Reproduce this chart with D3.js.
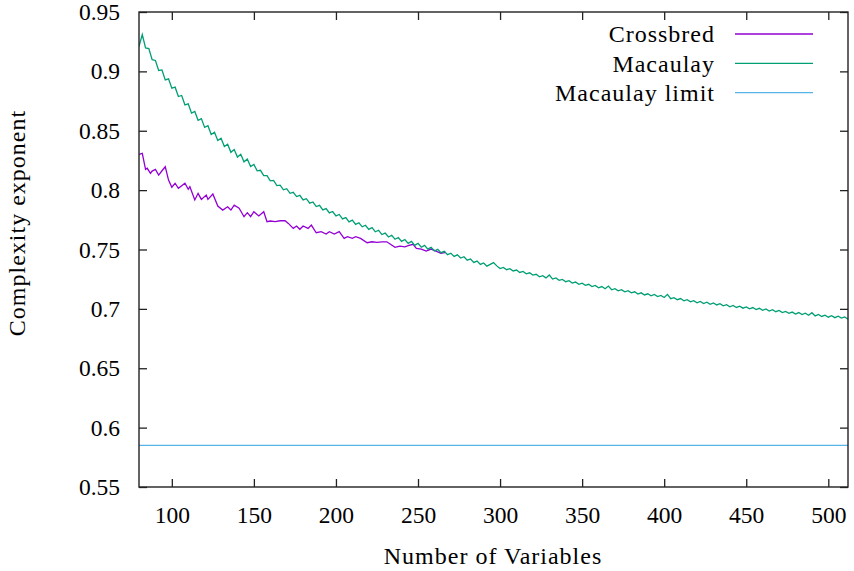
<!DOCTYPE html>
<html>
<head>
<meta charset="utf-8">
<script src="https://cdn.jsdelivr.net/npm/d3@7"></script>
<style>
  body { margin: 0; background: white; }
  text { font-family: "Liberation Serif", "DejaVu Serif", serif; fill: #000; }
  .label { font-size: 24px; letter-spacing: 1px; }
</style>
</head>
<body>
<div id="graphicContainer"></div>
<script>

// number of variables used for the Macaulay run (every other n)
var macaulayN = [80,82,84,86,88,90,92,94,96,98,100,102,104,106,108,110,112,114,116,118,120,122,124,126,128,130,132,134,136,138,140,142,144,146,148,150,
  152,154,156,158,160,162,164,166,168,170,172,174,176,178,180,182,184,186,188,190,192,194,196,198,200,202,204,206,208,210,212,214,216,218,220,222,224,226,228,230,232,234,236,238,240,242,244,246,248,250,252,254,256,258,260,
  262,264,266,268,270,272,274,276,278,280,282,284,286,288,290,292,294,296,298,300,302,304,306,308,310,312,314,316,318,320,322,324,326,328,330,332,334,336,338,340,342,344,346,348,350,352,354,356,358,360,
  362,364,366,368,370,372,374,376,378,380,382,384,386,388,390,392,394,396,398,400,402,404,406,408,410,412,414,416,418,420,422,424,426,428,430,432,434,436,438,440,442,444,446,448,450,452,454,456,458,460,
  462,464,466,468,470,472,474,476,478,480,482,484,486,488,490,492,494,496,498,500,502,504,506,508,510,512]

var macaulay = [0.921,0.931,0.9198,0.9192,0.9098,0.9092,0.9008,0.9012,0.8928,0.8937,0.8858,0.8867,0.8788,0.8797,0.8718,0.8727,0.8648,0.8662,0.8588,0.8602,0.8528,0.8542,0.8468,0.8487,0.8418,0.8437,0.8368,0.8387,0.8318,0.8342,0.8278,0.8302,0.8238,0.8262,0.8198,0.8217,
  0.8163,0.8167,0.8123,0.8122,0.8078,0.8082,0.8038,0.8042,0.8003,0.8012,0.7973,0.7982,0.7946,0.7956,0.7918,0.7928,0.789,0.79,0.7862,0.7872,0.7834,0.7845,0.7808,0.782,0.7783,0.7795,0.7758,0.7769,0.7733,0.7747,0.7712,0.7725,0.7691,0.7704,0.767,0.7684,0.7649,0.7662,0.7626,0.7638,0.7605,0.762,0.7586,0.7601,0.7568,0.7584,0.7552,0.7568,0.7535,0.7551,0.7519,0.7535,0.7503,0.7519,0.7487,
  0.7501,0.7473,0.7485,0.7457,0.7469,0.7442,0.7455,0.7428,0.7439,0.741,0.742,0.7391,0.7402,0.7374,0.7387,0.736,0.7375,0.739,0.7362,0.734,0.7349,0.733,0.7339,0.7319,0.7327,0.7307,0.7315,0.7295,0.7304,0.7285,0.7291,0.727,0.7279,0.7261,0.7285,0.7251,0.726,0.724,0.7248,0.7229,0.7237,0.7217,0.7226,0.7207,0.7217,0.7198,0.7207,0.7188,0.7197,0.7178,
  0.7188,0.717,0.7192,0.7161,0.717,0.7152,0.7162,0.7144,0.7153,0.7135,0.7144,0.7125,0.7135,0.7117,0.7127,0.711,0.7121,0.7103,0.7113,0.7096,0.7122,0.7086,0.7095,0.7077,0.7087,0.7068,0.7077,0.7059,0.7069,0.7051,0.7062,0.7045,0.7056,0.7039,0.705,0.7033,0.7044,0.7026,0.7036,0.7018,0.7029,0.7012,0.7023,0.7006,0.7017,0.7,0.7011,0.6994,0.7005,0.6988,
  0.6999,0.6982,0.6993,0.6976,0.6987,0.6969,0.6979,0.6962,0.6973,0.6957,0.6969,0.6952,0.6963,0.6946,0.6968,0.6941,0.6953,0.6936,0.6947,0.693,0.6942,0.6926,0.6938,0.6922,0.6932,0.6912]

var crossbredN = [80,82,84,85,87,88,90,92,94,96,98,100,102,104,108,110,111,114,116,118,121,122,125,128,131,134,136,138,141,144,146,148,150,153,156,158,160,163,166,169,171,174,176,178,180,183,185,188,191,194,196,199,202,205,207,210,212,215,219,222,225,228,231,233,236,239,242,244,247,249,252,255,258,261,264,267]

var crossbred = [0.830,0.831,0.8175,0.8184,0.8141,0.816,0.8175,0.8127,0.8163,0.8197,0.8085,0.8024,0.8058,0.8015,0.8058,0.8007,0.8029,0.7917,0.7973,0.7922,0.7959,0.7922,0.7967,0.7866,0.7832,0.786,0.7832,0.7874,0.7847,0.7776,0.781,0.7776,0.7818,0.7782,0.7818,0.7734,0.774,0.7734,0.7742,0.7742,0.772,0.7678,0.7698,0.767,0.7698,0.7678,0.7706,0.7641,0.765,0.763,0.765,0.763,0.765,0.7594,0.7608,0.7594,0.7608,0.7594,0.7557,0.7565,0.756,0.7565,0.7565,0.7546,0.7518,0.7529,0.7523,0.7532,0.7544,0.751,0.7504,0.7487,0.7504,0.7487,0.7468,0.7475]

var macaulayLimit = 0.585

var xTicks = [100,150,200,250,300,350,400,450,500]
var yTicks = [0.55,0.6,0.65,0.7,0.75,0.8,0.85,0.9,0.95]
var yTickLabels = ["0.55","0.6","0.65","0.7","0.75","0.8","0.85","0.9","0.95"]

var seriesNames = ["Crossbred", "Macaulay", "Macaulay limit"]
var seriesColours = ["#9400d3", "#009e73", "#56b4e9"]


var width = 854, height = 571
var margin = {top: 12, right: 6, bottom: 84, left: 139}
var innerW = width - margin.left - margin.right
var innerH = height - margin.top - margin.bottom

var svg = d3.select("#graphicContainer").append("svg")
    .attr("width", width)
    .attr("height", height)

var x = d3.scaleLinear().domain([80, 512]).range([0, innerW])
var y = d3.scaleLinear().domain([0.55, 0.95]).range([innerH, 0])

var g = svg.append("g").attr("transform", "translate(" + margin.left + "," + margin.top + ")")

g.append("clipPath").attr("id", "plotClip")
    .append("rect").attr("width", innerW).attr("height", innerH)

var tickLen = 8

// ticks on all four sides pointing inwards, gnuplot style
g.append("g").attr("transform", "translate(0," + innerH + ")")
    .call(d3.axisBottom(x).tickValues(xTicks).tickSize(-tickLen).tickPadding(19))
g.append("g")
    .call(d3.axisTop(x).tickValues(xTicks).tickSize(-tickLen).tickFormat(""))
g.append("g")
    .call(d3.axisLeft(y).tickValues(yTicks).tickSize(-tickLen).tickPadding(19)
        .tickFormat(function(d, i) { return yTickLabels[i] }))
g.append("g").attr("transform", "translate(" + innerW + ",0)")
    .call(d3.axisRight(y).tickValues(yTicks).tickSize(-tickLen).tickFormat(""))

g.selectAll(".domain").remove()
g.selectAll(".tick line").attr("stroke", "#222").attr("stroke-width", 1.3)
g.selectAll(".tick text").style("font-size", "23.5px").attr("fill", "#000")

var line = d3.line()
    .x(function(d) { return x(d[0]) })
    .y(function(d) { return y(d[1]) })

var lines = g.append("g").attr("clip-path", "url(#plotClip)")

lines.append("path")
    .datum(crossbredN.map(function(n, i) { return [n, crossbred[i]] }))
    .attr("fill", "none")
    .attr("stroke", seriesColours[0])
    .attr("stroke-width", 1.3)
    .attr("d", line)

lines.append("path")
    .datum(macaulayN.map(function(n, i) { return [n, macaulay[i]] }))
    .attr("fill", "none")
    .attr("stroke", seriesColours[1])
    .attr("stroke-width", 1.3)
    .attr("d", line)

lines.append("line")
    .attr("x1", x(80)).attr("x2", x(512))
    .attr("y1", y(macaulayLimit)).attr("y2", y(macaulayLimit))
    .attr("stroke", seriesColours[2])
    .attr("stroke-width", 1.3)

// frame
g.append("rect")
    .attr("width", innerW).attr("height", innerH)
    .attr("fill", "none").attr("stroke", "#222").attr("stroke-width", 1.4)

// legend
var legend = g.append("g").attr("transform", "translate(" + (715 - margin.left) + "," + (34 - margin.top) + ")")
seriesNames.forEach(function(name, i) {
    legend.append("text")
        .attr("class", "label")
        .attr("x", 0).attr("y", i * 29.3)
        .attr("dy", "0.35em")
        .attr("text-anchor", "end")
        .text(name)
    legend.append("line")
        .attr("x1", 20).attr("x2", 98)
        .attr("y1", i * 29.3).attr("y2", i * 29.3)
        .attr("stroke", seriesColours[i])
        .attr("stroke-width", 1.3)
})

// axis titles
svg.append("text")
    .attr("class", "label")
    .attr("x", 493).attr("y", 564)
    .attr("text-anchor", "middle")
    .text("Number of Variables")

svg.append("text")
    .attr("class", "label")
    .attr("transform", "translate(25,223) rotate(-90)")
    .attr("text-anchor", "middle")
    .text("Complexity exponent")

</script>
</body>
</html>
